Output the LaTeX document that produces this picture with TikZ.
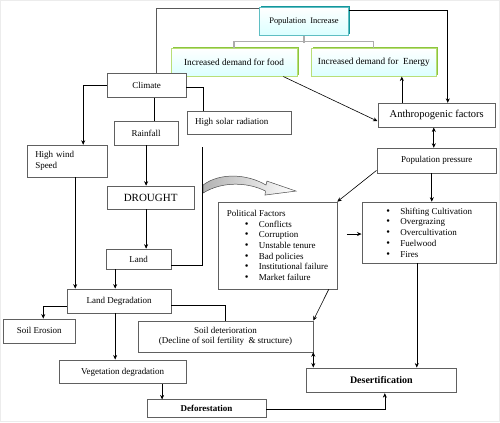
\documentclass[tikz,border=0pt]{standalone}
\usepackage{fontspec}
\setmainfont{Liberation Serif}
\usetikzlibrary{arrows.meta,positioning,shadows}
\definecolor{tealedge}{RGB}{95,190,195}
\definecolor{tealshade}{RGB}{20,150,155}
\definecolor{limeedge}{RGB}{185,222,120}
\definecolor{limeshade}{RGB}{140,198,62}
\newcommand{\dotmark}{\makebox[14pt][l]{\smash{\fontsize{10.5}{10}\selectfont\textbullet}}}
\newcommand{\pfitem}{\hspace*{18pt}\dotmark}
\newcommand{\sitem}{\dotmark}
\tikzset{
    chart/.style={x=1pt,y=-1pt,>={Stealth[length=4.5pt,width=4pt]},
                     line width=0.6pt},
    box/.style={rectangle,draw=gray!75!black,line width=0.7pt,fill=white,
                inner sep=2pt,font=\fontsize{9}{10.7}\selectfont},
    topbox/.style 2 args={box,draw=#1,shade,top color=white,bottom color=cyan!14,
                general shadow={fill=#2,shadow xshift=1.6pt,shadow yshift=1.6pt}},
    graylink/.style={gray!65,line width=1.2pt},
    }

\begin{document}
\begin{tikzpicture}[chart]
            \draw[gray!15, fill=white] (0,0) rectangle (500,422);
            \useasboundingbox (0,0) rectangle (500,422);

            % population boxes at the top
            \node[topbox={tealedge}{tealshade}, minimum width=89pt, minimum height=28pt,
                  font=\fontsize{8.5}{10}\selectfont] (popinc) at (304,21) {Population\ \ Increase};
            \node[topbox={limeedge}{limeshade}, minimum width=126pt, minimum height=28pt,
                  font=\fontsize{9.3}{11}\selectfont] (food) at (234,62) {Increased demand for food};
            \node[topbox={limeedge}{limeshade}, minimum width=126pt, minimum height=28pt,
                  font=\fontsize{9.3}{11}\selectfont] (energy) at (374,62) {Increased demand for\ \ Energy};

            % climate side
            \node[box, minimum width=79pt, minimum height=24pt] (climate) at (146.5,85) {Climate};
            \node[box, minimum width=80pt, minimum height=32pt, text width=64pt, inner xsep=8pt,
                  align=left] (wind) at (67,161) {High wind\\Speed};
            \node[box, minimum width=64pt, minimum height=24pt] (rain) at (146,133) {Rainfall};
            \node[box, minimum height=23pt, text width=88pt, inner xsep=8pt,
                  align=left] (solar) at (239,122.5) {High solar radiation};
            \node[box, minimum width=87pt, minimum height=23pt,
                  font=\fontsize{11}{13}\selectfont] (drought) at (150.5,197.5) {DROUGHT};
            \node[box, minimum width=65pt, minimum height=20pt] (land) at (138.5,259) {Land};
            \node[box, minimum width=104pt, minimum height=24pt] (landdeg) at (119,301) {Land Degradation};
            \node[box, minimum width=72pt, minimum height=24pt] (erosion) at (39,331) {Soil Erosion};
            \node[box, minimum width=175pt, minimum height=31pt, align=center] (soildet) at (225.5,336.5)
                  {Soil deterioration\\(Decline of soil fertility\ \ \& structure)};
            \node[box, minimum width=127pt, minimum height=24pt] (veg) at (122.5,372) {Vegetation degradation};
            \node[box, minimum width=119pt, minimum height=18pt,
                  font=\fontsize{9}{10.7}\selectfont\bfseries] (defor) at (206.5,409) {Deforestation};
            \node[box, minimum width=151pt, minimum height=25pt,
                  font=\fontsize{10}{12}\selectfont\bfseries] (desert) at (381.5,380.5) {Desertification};

            % human side
            \node[box, minimum width=118pt, minimum height=24pt,
                  font=\fontsize{10.5}{12}\selectfont] (anthro) at (437,115) {Anthropogenic factors};
            \node[box, minimum width=120pt, minimum height=25pt] (poppress) at (437,160.5) {Population pressure};
            \node[box, minimum width=119pt, minimum height=87pt, align=left] (political) at (277.5,245.5)
                  {Political Factors\\ \pfitem Conflicts\\ \pfitem Corruption\\ \pfitem Unstable tenure\\
                   \pfitem Bad policies\\ \pfitem Institutional failure\\ \pfitem Market failure};
            \node[box, minimum width=135pt, minimum height=61pt, align=left] (shifting) at (429.5,232.5)
                  {\sitem Shifting Cultivation\\ \sitem Overgrazing\\ \sitem Overcultivation\\
                   \sitem Fuelwood\\ \sitem Fires};

            % curved block arrow
            \draw[gray!60!black, line width=0.5pt, left color=gray!60, right color=white]
                (203,185) .. controls (220,172) and (248,174) .. (266,185) -- (267,181) -- (296,191)
                -- (265,195) -- (265.5,191) .. controls (248,182) and (222,181) .. (203,193) -- cycle;

            \draw[graylink] (food.north) -- ++(0,-6) -| (energy.north);
            \draw[graylink] (popinc.south) -- ++(0,7);
            \draw[gray!70!black] ([xshift=9.5pt]climate.north) |- ([yshift=-1pt]popinc.north west);
            \path[->] ([yshift=-3pt]popinc.north east) edge[to path={-| (\tikztotarget)}] ([xshift=11pt]anthro.north);
            \path[->] ([xshift=-14pt]food.south east) edge ([yshift=-6pt]anthro.west);
            \path[->] ([xshift=-35pt]anthro.north) edge ([xshift=-35pt]anthro.north |- energy.south);
            \path[<->] ([xshift=-3pt]anthro.south) edge ([xshift=-3pt]poppress.north);
            \path[->] ([yshift=3pt]poppress.south west) edge (political.north east);
            \path[->] ([xshift=-5pt]poppress.south) edge ([xshift=-5pt]poppress.south |- shifting.north);
            \coordinate (pfgap) at (347,234);
            \path[->] (pfgap) edge (pfgap -| shifting.west);
            \path[->] ([xshift=-8.5pt]political.south east) edge (soildet.north east);
            \path[<->] (soildet.south east) edge (soildet.south east |- desert.north);
            \path[->] ([xshift=-12.5pt]shifting.south) edge ([xshift=-12.5pt]shifting.south |- desert.north);
            \draw[->] (defor.east) -| ([xshift=3.5pt]desert.south);

            \draw[->] (climate.west) -| ([xshift=16pt]wind.north);
            \draw ([yshift=-2pt]climate.east) -| ([xshift=-36pt]solar.north);
            \draw ([xshift=7.5pt]climate.south) -- ([xshift=7.5pt]climate.south |- rain.north);
            \path[->] (rain.south) edge (rain.south |- drought.north);
            \path[->] ([xshift=-4.5pt]drought.south) edge ([xshift=-4.5pt]drought.south |- land.north);
            \coordinate (landtop) at (202,147);
            \draw ([yshift=-6pt]land.east) -| (landtop);
            \path[->] ([xshift=8pt]wind.south) edge ([xshift=8pt]wind.south |- landdeg.north);
            \path[->] ([xshift=-23.5pt]land.south) edge ([xshift=-23.5pt]land.south |- landdeg.north);
            \draw[->] ([yshift=-5pt]landdeg.west) -| ([xshift=4pt]erosion.north);
            \draw ([yshift=-4pt]landdeg.east) -| (soildet.north);
            \path[->] ([xshift=-4pt]landdeg.south) edge ([xshift=-4pt]landdeg.south |- veg.north);
            \path[->] ([xshift=39.5pt]veg.south) edge ([xshift=39.5pt]veg.south |- defor.north);
        \end{tikzpicture}
\end{document}
